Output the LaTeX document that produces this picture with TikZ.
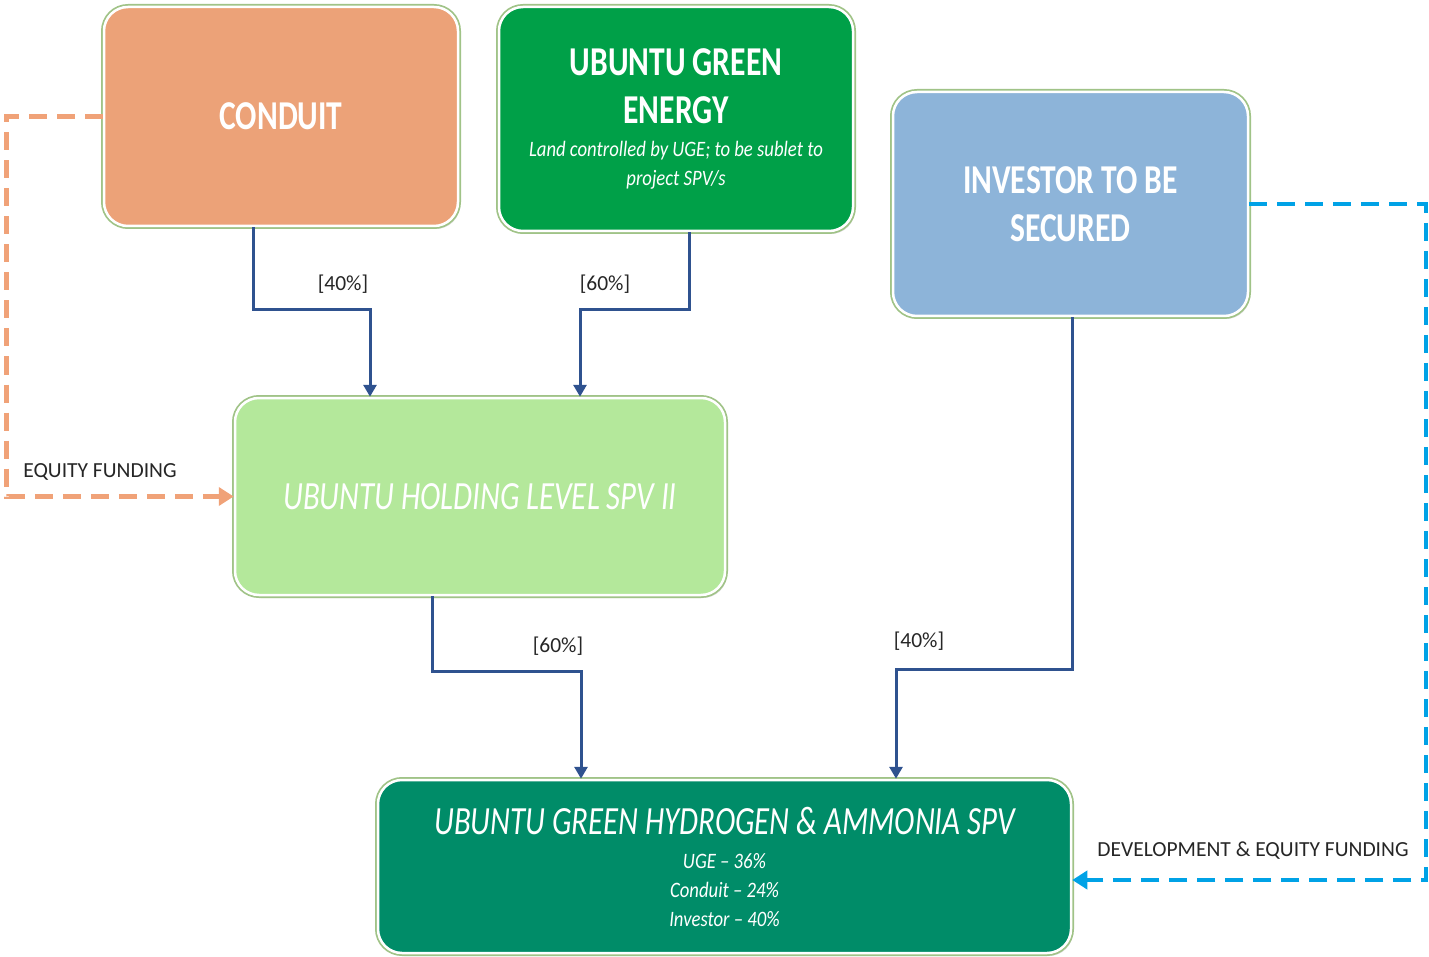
\documentclass[tikz,border=0pt]{standalone}
\usepackage{fontspec}
\setmainfont{Carlito}
\newfontfamily\boxfont[FakeStretch=0.77]{Carlito}
\newfontfamily\notefamily[FakeStretch=0.85]{Carlito}
\usetikzlibrary{arrows.meta, shadows}

\definecolor{conduitorange}{RGB}{236,162,120}
\definecolor{ugegreen}{RGB}{0,160,72}
\definecolor{investorblue}{RGB}{141,180,217}
\definecolor{holdinggreen}{RGB}{180,232,155}
\definecolor{spvgreen}{RGB}{0,140,104}
\definecolor{edgegreen}{RGB}{160,195,135}
\definecolor{linkblue}{RGB}{47,82,143}
\definecolor{equityorange}{RGB}{240,162,120}
\definecolor{devblue}{RGB}{0,162,230}

\newcommand{\notefont}{\notefamily\mdseries\itshape\fontsize{22}{29}\selectfont}

\tikzset{
  entity/.style={rounded corners=24pt, draw=white, line width=2.5pt, text=white, align=center, inner sep=0pt,
    drop shadow={shadow xshift=2pt, shadow yshift=-3pt, opacity=0.25},
    preaction={draw=edgegreen, line width=6pt}},
  share/.style={draw=linkblue, line width=3pt, -{Triangle[width=13pt,length=12pt]}},
  equityflow/.style={draw=equityorange, line width=5pt, dash pattern=on 18pt off 10pt, -{Triangle[width=18pt,length=15pt]}},
  devflow/.style={draw=devblue, line width=4pt, dash pattern=on 18pt off 10pt, -{Triangle[width=18pt,length=15pt]}},
  tag/.style={text=black!85, font=\fontsize{21.5}{24}\selectfont, inner sep=0pt}
}

\begin{document}
\begin{tikzpicture}[x=1pt,y=-1pt]
\useasboundingbox (0,0) rectangle (1429,957);

% owners
\node[entity, fill=conduitorange, minimum width=354pt, minimum height=219pt,
  font=\boxfont\bfseries\fontsize{41}{48}\selectfont] (conduit) at (281,116.5) {CONDUIT};
\node[entity, fill=ugegreen, minimum width=354pt, minimum height=224pt,
  font=\boxfont\bfseries\fontsize{41}{48}\selectfont] (uge) at (676,119)
  {UBUNTU GREEN\\ENERGY\\[-15pt]\notefont Land controlled by UGE; to be sublet to\\[-19pt]\notefont project SPV/s};
\node[entity, fill=investorblue, minimum width=355pt, minimum height=224pt,
  font=\boxfont\bfseries\fontsize{41}{48}\selectfont] (investor) at (1070.5,204) {INVESTOR TO BE\\SECURED};

% holding and project
\node[entity, fill=holdinggreen, minimum width=490pt, minimum height=197pt,
  font=\boxfont\itshape\fontsize{40}{48}\selectfont] (holding) at (480,496.5) {UBUNTU HOLDING LEVEL SPV II};
\node[entity, fill=spvgreen, minimum width=693pt, minimum height=173pt,
  font=\boxfont\itshape\fontsize{40}{48}\selectfont] (spv) at (724.5,866.5)
  {UBUNTU GREEN HYDROGEN \& AMMONIA SPV\\[-14pt]\notefont UGE – 36\%\\[-19pt]\notefont Conduit – 24\%\\[-19pt]\notefont Investor – 40\%};

% shareholdings
\draw[share] ([xshift=-28pt]conduit.south) -- ++(0,82) -| ([xshift=-110pt]holding.north);
\draw[share] ([xshift=13pt]uge.south) -- ++(0,77) -| ([xshift=100pt]holding.north);
\draw[share] ([xshift=-48pt]holding.south) -- ++(0,75) -| ([xshift=-143.5pt]spv.north);
\draw[share] ([xshift=1.5pt]investor.south) -- ++(0,352) -| ([xshift=171.5pt]spv.north);
\node[tag] (pctconduit) at (343,284) {[40\%]};
\node[tag] (pctuge) at (605,284) {[60\%]};
\node[tag] (pctholding) at (558,646) {[60\%]};
\node[tag] (pctinvestor) at (919,641) {[40\%]};

% funding
\draw[equityflow] (conduit.west) -- ++(-96,0) |- (holding.west);
\draw[devflow] (investor.east) -- ++(177,0) |- ([yshift=-13.5pt]spv.east);
\node[tag] (equitylbl) at (100,472) {EQUITY FUNDING};
\node[tag] (devlbl) at (1253,851) {DEVELOPMENT \& EQUITY FUNDING};

\end{tikzpicture}
\end{document}
